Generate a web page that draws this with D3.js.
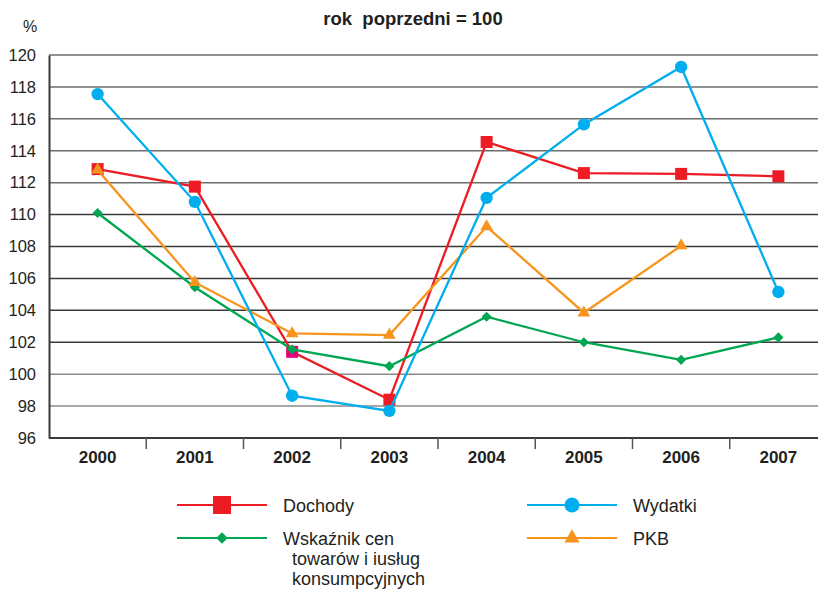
<!DOCTYPE html>
<html>
<head>
<meta charset="utf-8">
<script src="https://cdn.jsdelivr.net/npm/d3@7"></script>
<style>
  body { margin: 0; background: #fff; }
  svg { display: block; font-family: "Liberation Sans", Arial, sans-serif; }
</style>
</head>
<body>
<div id="chart"></div>
<script>
// data (previous year = 100)
var years = ["2000", "2001", "2002", "2003", "2004", "2005", "2006", "2007"];
var dochody = [112.85, 111.75, 101.4, 98.4, 114.55, 112.6, 112.55, 112.4];
var wydatki = [117.55, 110.8, 98.65, 97.7, 111.05, 115.65, 119.25, 105.15];
var wskaznik = [110.1, 105.45, 101.55, 100.5, 103.6, 102.0, 100.9, 102.3];
var pkb = [112.8, 105.75, 102.55, 102.45, 109.25, 103.85, 108.05, null];
var yTicks = [96, 98, 100, 102, 104, 106, 108, 110, 112, 114, 116, 118, 120];

var width = 818, height = 590;
var plotLeft = 49, plotTop = 55, plotBottom = 438, plotRight = 827;
var ink = "#231f20";

var svg = d3.select("#chart").append("svg")
  .attr("width", width).attr("height", height);

var x = d3.scaleBand().domain(years).range([plotLeft, plotRight]);
var y = d3.scaleLinear().domain([96, 120]).range([plotBottom, plotTop]);

// title
svg.append("text").attr("x", 413).attr("y", 25).attr("text-anchor", "middle")
  .style("font-size", "18.5px").style("font-weight", "bold").style("white-space", "pre")
  .attr("fill", ink)
  .text("rok  poprzedni = 100");
svg.append("text").attr("x", 30).attr("y", 32).attr("text-anchor", "middle")
  .style("font-size", "16px").attr("fill", ink).text("%");

// gridlines
svg.append("g").selectAll("line").data(yTicks.filter(function(d) { return d > 96; }))
  .enter().append("line")
  .attr("x1", plotLeft).attr("x2", width)
  .attr("y1", function(d) { return y(d); }).attr("y2", function(d) { return y(d); })
  .attr("stroke", function(d) { return d <= 100 ? "#8a8a8a" : (d >= 112 ? "#6d6d6d" : "#3a3a3a"); })
  .attr("stroke-width", 1.5);

// y axis
var yAxis = svg.append("g").attr("transform", "translate(" + plotLeft + ",0)")
  .call(d3.axisLeft(y).tickValues(yTicks).tickSize(0).tickPadding(13));
yAxis.select(".domain").attr("stroke", "#3a3a3a").attr("stroke-width", 2);
yAxis.selectAll("text").style("font-size", "16.5px").attr("fill", ink)
  .attr("font-family", "Liberation Sans, Arial, sans-serif");

// x axis
svg.append("g").selectAll("text").data(years).enter().append("text")
  .attr("x", function(d) { return x(d) + x.bandwidth() / 2; }).attr("y", 463)
  .attr("text-anchor", "middle")
  .style("font-size", "17px").style("font-weight", "bold").attr("fill", ink)
  .text(function(d) { return d; });
svg.append("line").attr("x1", plotLeft).attr("x2", width).attr("y1", plotBottom).attr("y2", plotBottom)
  .attr("stroke", "#3a3a3a").attr("stroke-width", 2);
svg.append("g").selectAll("line").data(years.slice(1)).enter().append("line")
  .attr("x1", function(d) { return x(d); }).attr("x2", function(d) { return x(d); })
  .attr("y1", plotBottom).attr("y2", plotBottom + 11)
  .attr("stroke", "#555").attr("stroke-width", 1.5);

var cx = function(i) { return x(years[i]) + x.bandwidth() / 2; };

var series = [
  { name: "Dochody", values: dochody, color: "#ed1c24", shape: d3.symbolSquare, size: 144 },
  { name: "Wskaźnik", values: wskaznik, color: "#00a651", shape: d3.symbolDiamond2, size: 66 },
  { name: "PKB", values: pkb, color: "#f7941d", shape: d3.symbolTriangle, size: 70 },
  { name: "Wydatki", values: wydatki, color: "#00aeef", shape: d3.symbolCircle, size: 120 }
];

var line = d3.line()
  .defined(function(d) { return d != null; })
  .x(function(d, i) { return cx(i); })
  .y(function(d) { return y(d); });

series.forEach(function(s) {
  svg.append("path").datum(s.values)
    .attr("d", line).attr("fill", "none")
    .attr("stroke", s.color).attr("stroke-width", 2.3);
  svg.append("g").selectAll("path")
    .data(s.values.map(function(v, i) { return { v: v, i: i }; }).filter(function(d) { return d.v != null; }))
    .enter().append("path")
    .attr("d", d3.symbol().type(s.shape).size(s.size))
    .attr("transform", function(d) { return "translate(" + cx(d.i) + "," + y(d.v) + ")"; })
    .attr("fill", function(d) { return (s.name == "Dochody" && d.i == 2) ? "#e6007e" : s.color; });
});

// legend
var legend = [
  { lines: ["Dochody"], color: "#ed1c24", shape: d3.symbolSquare, size: 324, x: 177, y: 505 },
  { lines: ["Wydatki"], color: "#00aeef", shape: d3.symbolCircle, size: 177, x: 527, y: 505 },
  { lines: ["Wskaźnik cen", "towarów i iusług", "konsumpcyjnych"], color: "#00a651", shape: d3.symbolDiamond2, size: 85, x: 177, y: 538 },
  { lines: ["PKB"], color: "#f7941d", shape: d3.symbolTriangle, size: 100, x: 527, y: 538 }
];
legend.forEach(function(l) {
  var g = svg.append("g").attr("transform", "translate(" + l.x + "," + l.y + ")");
  g.append("line").attr("x1", 0).attr("x2", 90).attr("stroke", l.color).attr("stroke-width", 2);
  g.append("path").attr("d", d3.symbol().type(l.shape).size(l.size))
    .attr("transform", "translate(45,0)").attr("fill", l.color);
  l.lines.forEach(function(t, i) {
    g.append("text").attr("x", i == 0 ? 106 : 115).attr("y", 7 + i * 20)
      .style("font-size", "18px").attr("fill", ink).text(t);
  });
});
</script>
</body>
</html>
